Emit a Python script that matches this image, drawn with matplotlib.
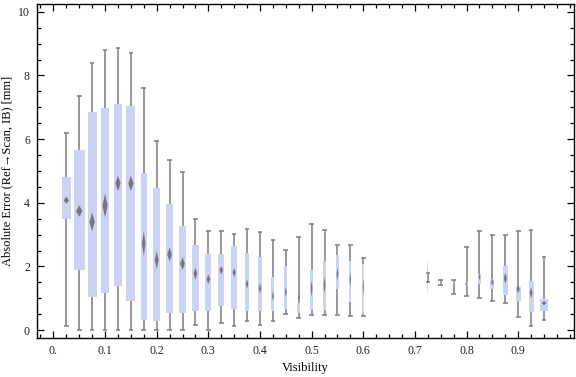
import matplotlib.pyplot as plt
from matplotlib.patches import Polygon
from matplotlib.ticker import MultipleLocator, FixedLocator

plt.rcParams['font.family'] = ['Liberation Serif', 'DejaVu Serif']

# visibility bins (box centres)
positions = [0.025, 0.05, 0.075, 0.1, 0.125, 0.15, 0.175, 0.2, 0.225, 0.25,
             0.275, 0.3, 0.325, 0.35, 0.375, 0.4, 0.425, 0.45, 0.475, 0.5,
             0.525, 0.55, 0.575, 0.6, 0.725, 0.75, 0.775, 0.8, 0.825, 0.85,
             0.875, 0.9, 0.925, 0.95]
whisker_lo = [0.13, 0.02, 0.0, 0.0, 0.0, 0.0, 0.0, 0.0, 0.02, 0.0,
              0.15, 0.0, 0.21, 0.13, 0.30, 0.15, 0.30, 0.51, 0.37, 0.49,
              0.47, 0.49, 0.46, 0.43, 1.52, 1.42, 1.12, 1.06, 1.00, 0.93,
              0.84, 0.41, 0.13, 0.31]
q1 = [3.50, 1.90, 1.05, 1.17, 1.39, 0.92, 0.32, 0.29, 0.54, 0.54,
      0.61, 0.61, 0.76, 0.67, 0.61, 0.61, 0.59, 0.67, 0.55, 0.64,
      0.64, 1.29, 0.89, 0.51, 1.55, 1.46, 1.42, 1.38, 1.46, 1.30,
      1.11, 0.92, 0.58, 0.61]
means = [4.08, 3.74, 3.40, 3.91, 4.61, 4.61, 2.72, 2.20, 2.38, 2.09,
         1.78, 1.60, 1.88, 1.81, 1.45, 1.31, 1.07, 1.20, 1.03, 1.31,
         1.41, 1.76, 1.59, 1.36, 1.68, 1.49, 1.46, 1.45, 1.67, 1.50,
         1.63, 1.29, 1.17, 0.85]
q3 = [4.81, 5.65, 6.85, 6.97, 7.10, 7.04, 4.95, 4.46, 3.96, 3.27,
      2.67, 2.39, 2.39, 2.64, 2.41, 2.31, 1.66, 2.03, 0.85, 1.88,
      2.17, 2.35, 2.17, 2.09, 1.78, 1.52, 1.50, 1.51, 1.76, 1.60,
      2.01, 1.34, 1.54, 0.98]
whisker_hi = [6.18, 7.37, 8.39, 8.79, 8.85, 8.72, 7.62, 5.93, 5.33, 4.98,
              3.48, 3.10, 3.13, 3.02, 3.19, 3.07, 2.82, 2.52, 2.94, 3.32,
              3.16, 2.69, 2.69, 2.28, 1.80, 1.56, 1.59, 2.60, 3.13, 2.98,
              2.98, 3.13, 3.16, 2.31]
mean_ci = [0.11, 0.18, 0.30, 0.37, 0.24, 0.24, 0.38, 0.28, 0.22, 0.20,
           0.19, 0.15, 0.13, 0.14, 0.16, 0.16, 0.16, 0.16, 0.10, 0.26,
           0.26, 0.19, 0.25, 0.25, 0.58, 0.05, 0.05, 0.05, 0.10, 0.10,
           0.17, 0.13, 0.17, 0.07]
box_widths = [0.017, 0.021, 0.017, 0.017, 0.017, 0.017, 0.012, 0.013, 0.015, 0.015,
              0.012, 0.012, 0.012, 0.011, 0.008, 0.008, 0.006, 0.006, 0.006, 0.006,
              0.006, 0.006, 0.004, 0.004, 0.002, 0.002, 0.002, 0.006, 0.006, 0.008,
              0.010, 0.010, 0.010, 0.014]

fig = plt.figure(figsize=(5.76, 3.77), dpi=100)
ax = fig.add_axes([0.064, 0.104, 0.9325, 0.885])

grey = '#7c7c7c'
cap = 0.0045
ax.vlines(positions, whisker_lo, whisker_hi, color=grey, lw=1.1, zorder=1)
ax.hlines(whisker_lo, [p - cap for p in positions], [p + cap for p in positions],
          color=grey, lw=1.1, zorder=1)
ax.hlines(whisker_hi, [p - cap for p in positions], [p + cap for p in positions],
          color=grey, lw=1.1, zorder=1)

heights = [b - a for a, b in zip(q1, q3)]
ax.bar(positions, heights, bottom=q1, width=box_widths, color='#cbd3f5',
       edgecolor='none', zorder=2)

for x, m, h, w in zip(positions, means, mean_ci, box_widths):
    hw = w * 0.3
    ax.add_patch(Polygon([(x, m - h), (x + hw, m), (x, m + h), (x - hw, m)],
                         closed=True, facecolor='#6e6e6e', edgecolor='none',
                         alpha=0.9, zorder=3))

ax.set_xlim(-0.032, 1.008)
ax.set_ylim(-0.24, 10.24)

ax.xaxis.set_major_locator(FixedLocator([0.0, 0.1, 0.2, 0.3, 0.4, 0.5, 0.6, 0.7, 0.8, 0.9]))
ax.set_xticklabels(['0.', '0.1', '0.2', '0.3', '0.4', '0.5', '0.6', '0.7', '0.8', '0.9'])
ax.xaxis.set_minor_locator(MultipleLocator(0.025))
ax.yaxis.set_major_locator(MultipleLocator(2))
ax.yaxis.set_minor_locator(MultipleLocator(0.5))

ax.tick_params(which='both', direction='in', top=True, right=True,
               labelsize=8.5, colors='black', labelcolor='#222222', width=0.9)
ax.tick_params(which='major', length=5, pad=5)
ax.tick_params(which='minor', length=3)
for s in ax.spines.values():
    s.set_linewidth(1.0)

ax.set_xlabel('Visibility', fontsize=9)
ax.set_ylabel('Absolute Error (Ref\u2192Scan, IB) [mm]', fontsize=9)
ax.xaxis.set_label_coords(0.5, -0.072)
ax.yaxis.set_label_coords(-0.043, 0.5)

fig.savefig('out.png', dpi=100)
